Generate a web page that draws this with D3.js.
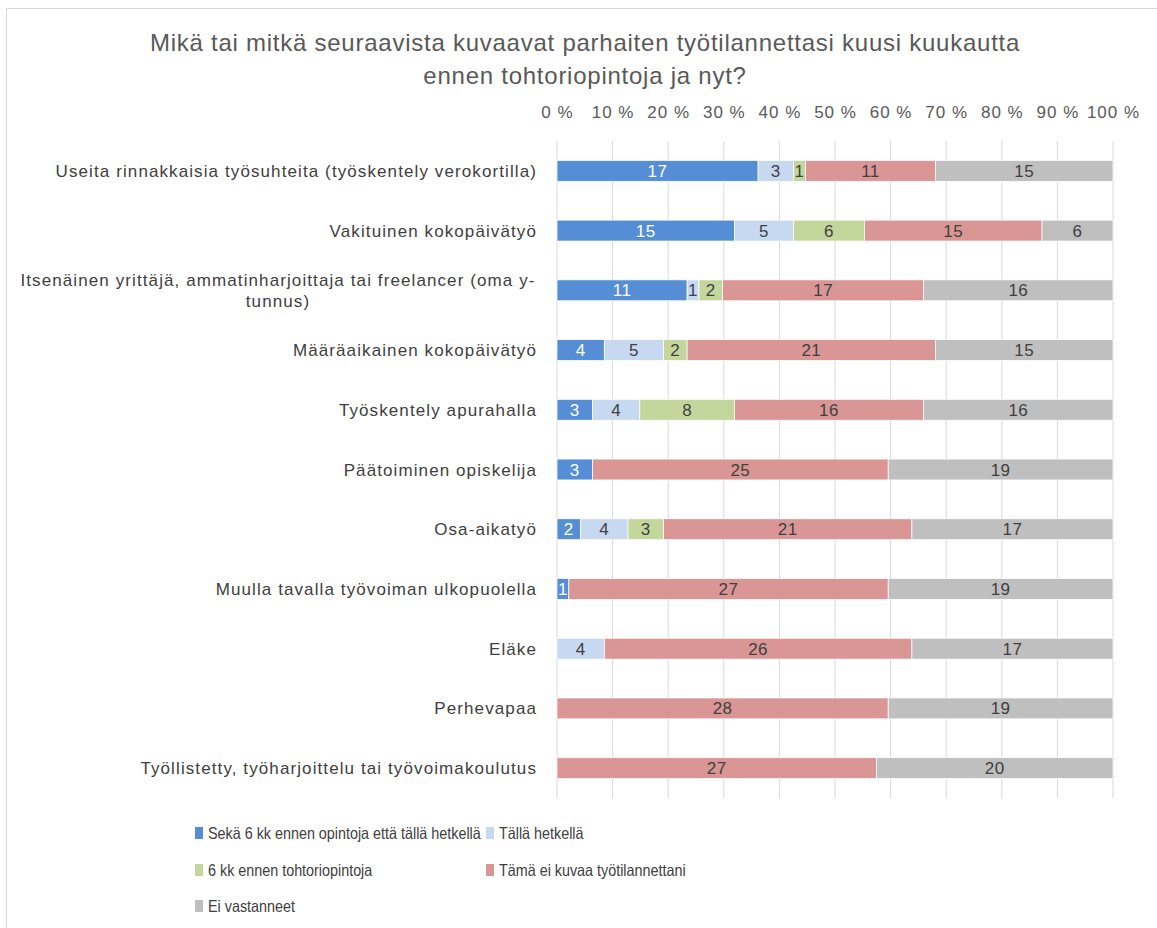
<!DOCTYPE html>
<html>
<head>
<meta charset="utf-8">
<script src="https://cdn.jsdelivr.net/npm/d3@7"></script>
<style>
  body { margin: 0; background: #fff; }
  text { font-family: "Liberation Sans", Arial, sans-serif; }
</style>
</head>
<body>
<div id="chart"></div>
<script>
  // categories, top to bottom
  var categories = [
    "Useita rinnakkaisia työsuhteita (työskentely verokortilla)",
    "Vakituinen kokopäivätyö",
    "Itsenäinen yrittäjä, ammatinharjoittaja tai freelancer (oma y-|tunnus)",
    "Määräaikainen kokopäivätyö",
    "Työskentely apurahalla",
    "Päätoiminen opiskelija",
    "Osa-aikatyö",
    "Muulla tavalla työvoiman ulkopuolella",
    "Eläke",
    "Perhevapaa",
    "Työllistetty, työharjoittelu tai työvoimakoulutus"
  ];

  var seriesNames = [
    "Sekä 6 kk ennen opintoja että tällä hetkellä",
    "Tällä hetkellä",
    "6 kk ennen tohtoriopintoja",
    "Tämä ei kuvaa työtilannettani",
    "Ei vastanneet"
  ];

  var both    = [17, 15, 11, 4, 3, 3, 2, 1, 0, 0, 0];
  var now     = [3, 5, 1, 5, 4, 0, 4, 0, 4, 0, 0];
  var before  = [1, 6, 2, 2, 8, 0, 3, 0, 0, 0, 0];
  var notMe   = [11, 15, 17, 21, 16, 25, 21, 27, 26, 28, 27];
  var noReply = [15, 6, 16, 15, 16, 19, 17, 19, 17, 19, 20];

  var tickValues = [0, 0.1, 0.2, 0.3, 0.4, 0.5, 0.6, 0.7, 0.8, 0.9, 1];

  var colors = ["#558ed5", "#c6d9f1", "#c3d69b", "#d99694", "#bfbfbf"];
  var labelColors = ["#ffffff", "#404040", "#404040", "#404040", "#404040"];

  var W = 1157, H = 928;
  var margin = {top: 141, left: 557, right: 44, bottom: 130};

  var svg = d3.select("#chart").append("svg")
    .attr("width", W)
    .attr("height", H);

  // chart border
  svg.append("rect")
    .attr("x", 6.5).attr("y", 8.5)
    .attr("width", W).attr("height", H)
    .attr("fill", "none")
    .attr("stroke", "#d9d9d9");

  // title
  var title = svg.append("text")
    .attr("text-anchor", "middle")
    .attr("fill", "#595959")
    .style("font-size", "24px")
    .style("letter-spacing", "0.75px");
  title.append("tspan").attr("x", 585).attr("y", 51)
    .text("Mikä tai mitkä seuraavista kuvaavat parhaiten työtilannettasi kuusi kuukautta");
  title.append("tspan").attr("x", 585).attr("y", 84)
    .text("ennen tohtoriopintoja ja nyt?");

  var rows = categories.map(function (c, i) {
    var vals = [both[i], now[i], before[i], notMe[i], noReply[i]];
    var total = d3.sum(vals);
    var r = {cat: c};
    vals.forEach(function (v, k) { r["s" + k] = v / total; r["v" + k] = v; });
    return r;
  });

  var keys = seriesNames.map(function (d, k) { return "s" + k; });
  var stacked = d3.stack().keys(keys)(rows);

  var x = d3.scaleLinear().domain([0, 1]).range([margin.left, W - margin.right]);
  var y = d3.scaleBand().domain(categories)
    .range([margin.top, H - margin.bottom])
    .paddingInner(0.65).paddingOuter(0.325);

  // gridlines
  svg.append("g")
    .selectAll("line")
    .data(tickValues)
    .enter().append("line")
    .attr("x1", function (d) { return x(d); })
    .attr("x2", function (d) { return x(d); })
    .attr("y1", margin.top)
    .attr("y2", H - margin.bottom)
    .attr("stroke", "#d9d9d9")
    .attr("stroke-width", 1);

  // top axis labels
  var xAxis = svg.append("g")
    .attr("transform", "translate(0," + 121 + ")")
    .call(d3.axisTop(x).tickValues(tickValues).tickSize(0)
      .tickFormat(function (d) { return Math.round(d * 100) + " %"; }));
  xAxis.select(".domain").remove();
  xAxis.selectAll("text")
    .attr("fill", "#595959")
    .style("font-family", "'Liberation Sans', Arial, sans-serif")
    .style("font-size", "17px")
    .style("letter-spacing", "1px");

  // bars
  var layer = svg.append("g").selectAll("g")
    .data(stacked)
    .enter().append("g")
    .attr("fill", function (d, k) { return colors[k]; });

  layer.selectAll("rect")
    .data(function (d) { return d; })
    .enter().append("rect")
    .filter(function (d) { return d[1] - d[0] > 0; })
    .attr("x", function (d) { return x(d[0]); })
    .attr("y", function (d) { return y(d.data.cat); })
    .attr("width", function (d) { return x(d[1]) - x(d[0]); })
    .attr("height", y.bandwidth())
    .attr("stroke", "#ffffff")
    .attr("stroke-width", 0.75);

  // data labels
  layer.each(function (s, k) {
    d3.select(this).selectAll("text")
      .data(s.filter(function (d) { return d[1] - d[0] > 0; }))
      .enter().append("text")
      .attr("x", function (d) { return (x(d[0]) + x(d[1])) / 2; })
      .attr("y", function (d) { return y(d.data.cat) + y.bandwidth() / 2 + 6; })
      .attr("text-anchor", "middle")
      .attr("fill", labelColors[k])
      .style("font-size", "17px")
      .style("letter-spacing", "0.5px")
      .text(function (d) { return d.data["v" + k]; });
  });

  // category labels
  var catG = svg.append("g");
  categories.forEach(function (c) {
    var parts = c.split("|");
    var cy = y(c) + y.bandwidth() / 2;
    var t = catG.append("text")
      .attr("fill", "#404040")
      .style("font-size", "17px")
      .style("letter-spacing", "1.1px");
    if (parts.length === 1) {
      t.attr("text-anchor", "end")
        .attr("x", 537).attr("y", cy + 6)
        .text(c);
    } else {
      t.attr("text-anchor", "middle");
      parts.forEach(function (p, j) {
        t.append("tspan")
          .attr("x", 278)
          .attr("y", cy + 6 + (j - (parts.length - 1) / 2) * 21)
          .text(p);
      });
    }
  });

  // legend (text squeezed horizontally to mimic the narrow original font)
  var legendPos = [
    {x: 195, y: 833}, {x: 486, y: 833},
    {x: 195, y: 870}, {x: 486, y: 870},
    {x: 195, y: 906}
  ];
  var squeeze = 0.87;
  var legend = svg.append("g").selectAll("g")
    .data(seriesNames)
    .enter().append("g")
    .attr("transform", function (d, i) {
      return "translate(" + legendPos[i].x + "," + legendPos[i].y + ")";
    });
  legend.append("rect")
    .attr("x", 0).attr("y", -6)
    .attr("width", 8).attr("height", 12)
    .attr("fill", function (d, i) { return colors[i]; });
  legend.append("text")
    .attr("transform", "translate(13,6) scale(" + squeeze + ",1)")
    .attr("fill", "#404040")
    .style("font-size", "16.5px")
    .text(function (d) { return d; });
</script>
</body>
</html>
